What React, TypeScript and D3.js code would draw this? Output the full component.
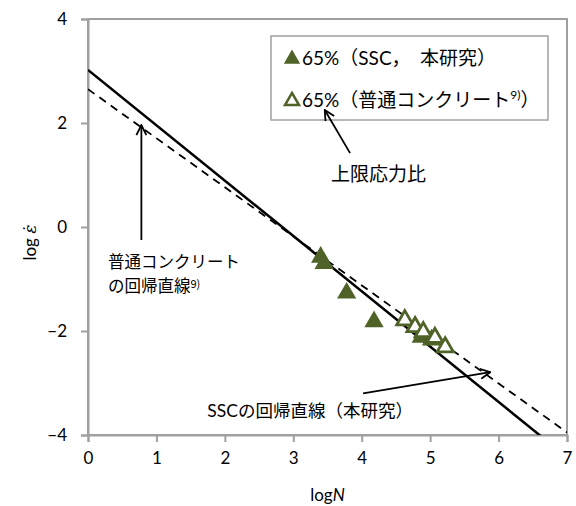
import React, { useEffect, useRef } from 'react';
import * as d3 from 'd3';

// 65%（SSC，本研究）
const ssc_logN = [3.4, 3.45, 3.78, 4.18, 4.87, 5.02];
const ssc_logE = [-0.58, -0.7, -1.27, -1.82, -2.12, -2.17];
// 65%（普通コンクリート）
const nc_logN = [4.63, 4.78, 4.9, 5.07, 5.22];
const nc_logE = [-1.79, -1.92, -2.02, -2.13, -2.31];

// regression lines: logE = a + b * logN
const sscLine = { a: 3.02, b: -1.064 };
const ncLine = { a: 2.65, b: -0.943 };

const xTicks = [0, 1, 2, 3, 4, 5, 6, 7];
const yTicks = [-4, -2, 0, 2, 4];

const LATIN = 'Lato, "Noto Sans CJK JP", sans-serif';
const CJK = '"Noto Sans CJK JP", sans-serif';
const GREEN = '#4f6228';
const GRAY = '#a0a0a0';

export default function App() {
    const ref = useRef<SVGSVGElement>(null);

    useEffect(() => {
        drawChart();
        // eslint-disable-next-line
    }, []);

    function drawChart() {
        const width = 576;
        const height = 506;
        const margin = { top: 19, right: 9, bottom: 71, left: 88 };

        const svg = d3.select(ref.current);
        svg.selectAll('*').remove();

        const x = d3.scaleLinear().domain([0, 7]).range([margin.left, width - margin.right]);
        const y = d3.scaleLinear().domain([-4, 4]).range([height - margin.bottom, margin.top]);

        const defs = svg.append('defs');
        defs.append('clipPath')
            .attr('id', 'plotclip')
            .append('rect')
            .attr('x', x(0))
            .attr('y', y(4))
            .attr('width', x(7) - x(0))
            .attr('height', y(-4) - y(4));
        defs.append('marker')
            .attr('id', 'arrow')
            .attr('viewBox', '0 0 12 12')
            .attr('refX', 11)
            .attr('refY', 6)
            .attr('markerWidth', 12)
            .attr('markerHeight', 12)
            .attr('markerUnits', 'userSpaceOnUse')
            .attr('orient', 'auto')
            .append('path')
            .attr('d', 'M1,1 L11,6 L1,11')
            .attr('fill', 'none')
            .attr('stroke', '#000')
            .attr('stroke-width', 1.8);

        // plot area border
        svg.append('rect')
            .attr('x', x(0))
            .attr('y', y(4))
            .attr('width', x(7) - x(0))
            .attr('height', y(-4) - y(4))
            .attr('fill', 'none')
            .attr('stroke', GRAY)
            .attr('stroke-width', 2);

        // X axis
        const xAxis = svg.append('g')
            .attr('transform', `translate(0,${y(-4)})`)
            .call(d3.axisBottom(x).tickValues(xTicks).tickSize(7).tickPadding(10).tickFormat(d3.format('d')));
        xAxis.select('.domain').attr('stroke', GRAY).attr('stroke-width', 2);
        xAxis.selectAll('.tick line').attr('stroke', GRAY).attr('stroke-width', 2);
        xAxis.selectAll('.tick text').attr('font-family', LATIN).attr('font-size', 17).attr('fill', '#000');

        // Y axis
        const yAxis = svg.append('g')
            .attr('transform', `translate(${x(0)},0)`)
            .call(d3.axisLeft(y).tickValues(yTicks).tickSize(7).tickPadding(14).tickFormat(d3.format('d')));
        yAxis.select('.domain').attr('stroke', GRAY).attr('stroke-width', 2);
        yAxis.selectAll('.tick line').attr('stroke', GRAY).attr('stroke-width', 2);
        yAxis.selectAll('.tick text').attr('font-family', LATIN).attr('font-size', 17).attr('fill', '#000');

        // axis titles
        const xt = svg.append('text')
            .attr('x', (x(0) + x(7)) / 2)
            .attr('y', 501)
            .attr('text-anchor', 'middle')
            .attr('font-family', LATIN)
            .attr('font-size', 17);
        xt.append('tspan').text('log');
        xt.append('tspan').attr('font-style', 'italic').text('N');

        const yt = svg.append('text')
            .attr('transform', `translate(36,${y(-0.3)}) rotate(-90)`)
            .attr('text-anchor', 'middle')
            .attr('font-family', LATIN)
            .attr('font-size', 17);
        yt.append('tspan').text('log ');
        yt.append('tspan').attr('font-style', 'italic').attr('font-family', '"DejaVu Serif", serif').text('\u03b5\u0307');

        // regression lines
        const plot = svg.append('g').attr('clip-path', 'url(#plotclip)');
        const line = d3.line<number>().x((d) => x(d));
        const xs = [0, 7];
        plot.append('path')
            .attr('fill', 'none')
            .attr('stroke', '#000')
            .attr('stroke-width', 1.8)
            .attr('stroke-dasharray', '8,6')
            .attr('d', line.y((d) => y(ncLine.a + ncLine.b * d))(xs));
        plot.append('path')
            .attr('fill', 'none')
            .attr('stroke', '#000')
            .attr('stroke-width', 2.5)
            .attr('d', line.y((d) => y(sscLine.a + sscLine.b * d))(xs));

        // markers
        const tri = d3.symbol().type(d3.symbolTriangle).size(160);
        const triOpen = d3.symbol().type(d3.symbolTriangle).size(115);
        plot.selectAll('.ssc')
            .data(d3.zip(ssc_logN, ssc_logE))
            .enter()
            .append('path')
            .attr('d', tri)
            .attr('transform', (d) => `translate(${x(d[0])},${y(d[1])})`)
            .attr('fill', GREEN);
        plot.selectAll('.nc')
            .data(d3.zip(nc_logN, nc_logE))
            .enter()
            .append('path')
            .attr('d', triOpen)
            .attr('transform', (d) => `translate(${x(d[0])},${y(d[1])})`)
            .attr('fill', '#fff')
            .attr('stroke', GREEN)
            .attr('stroke-width', 2.8);

        // legend
        const lg = svg.append('g');
        lg.append('rect')
            .attr('x', 271)
            .attr('y', 36)
            .attr('width', 277)
            .attr('height', 84)
            .attr('fill', '#fff')
            .attr('stroke', GRAY)
            .attr('stroke-width', 1.5);
        lg.append('path')
            .attr('d', d3.symbol().type(d3.symbolTriangle).size(115)())
            .attr('transform', 'translate(292,59)')
            .attr('fill', GREEN);
        lg.append('path')
            .attr('d', d3.symbol().type(d3.symbolTriangle).size(85)())
            .attr('transform', 'translate(292,101)')
            .attr('fill', '#fff')
            .attr('stroke', GREEN)
            .attr('stroke-width', 2.5);
        lg.append('text')
            .attr('x', 302)
            .attr('y', 65)
            .attr('font-family', LATIN)
            .attr('font-size', 19)
            .text('65%（SSC，\u3000本研究）');
        const l2 = lg.append('text')
            .attr('x', 302)
            .attr('y', 107)
            .attr('font-family', LATIN)
            .attr('font-size', 19);
        l2.append('tspan').text('65%（普通コンクリート');
        l2.append('tspan').attr('font-size', 12).attr('dy', -8).text('9)');
        l2.append('tspan').attr('dy', 8).text('）');

        // annotations
        const arrow = (x1: number, y1: number, x2: number, y2: number) =>
            svg.append('line')
                .attr('x1', x(x1))
                .attr('y1', y(y1))
                .attr('x2', x(x2))
                .attr('y2', y(y2))
                .attr('stroke', '#000')
                .attr('stroke-width', 1.8)
                .attr('marker-end', 'url(#arrow)');

        arrow(3.83, 1.42, 3.46, 2.25);
        svg.append('text')
            .attr('x', 331)
            .attr('y', 181)
            .attr('font-family', CJK)
            .attr('font-size', 19)
            .text('上限応力比');

        arrow(0.78, -0.25, 0.78, 1.96);
        svg.append('text')
            .attr('x', 108)
            .attr('y', 268)
            .attr('font-family', CJK)
            .attr('font-size', 16.5)
            .text('普通コンクリート');
        const a2 = svg.append('text')
            .attr('x', 108)
            .attr('y', 292)
            .attr('font-family', CJK)
            .attr('font-size', 16.5);
        a2.append('tspan').text('の回帰直線');
        a2.append('tspan').attr('font-size', 11).attr('dy', -4).text('9)');

        arrow(4.02, -3.2, 5.88, -2.79);
        svg.append('text')
            .attr('x', 413)
            .attr('y', 417)
            .attr('text-anchor', 'end')
            .attr('font-family', LATIN)
            .attr('font-size', 17.5)
            .text('SSCの回帰直線（本研究）');
    }

    return (
        <>
            <style>{'body{margin:0}'}</style>
            <svg ref={ref} width={576} height={506} style={{ display: 'block', background: '#fff' }} />
        </>
    );
}
